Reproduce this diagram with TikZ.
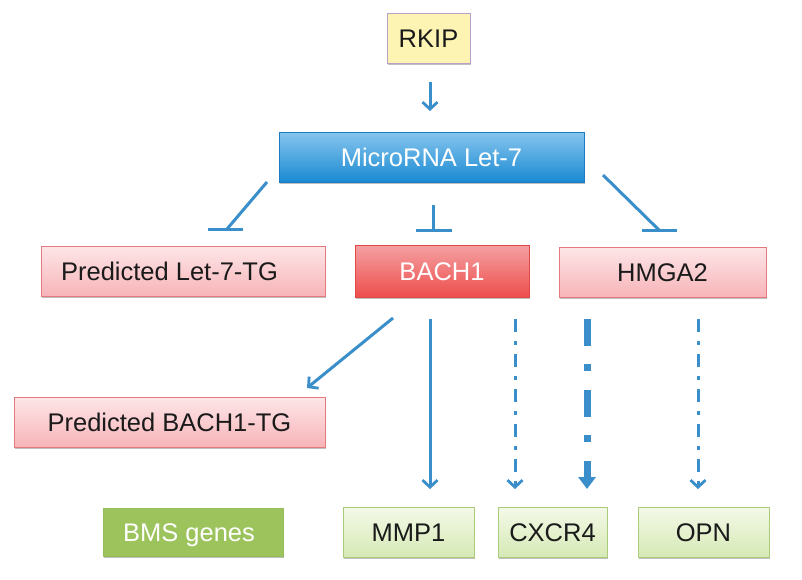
\documentclass[tikz,border=0pt]{standalone}
\usepackage{fontspec}
\setmainfont{Liberation Sans}
\usetikzlibrary{arrows.meta,shadows}
\definecolor{arrblue}{HTML}{3A8FCB}
\definecolor{txt}{HTML}{1A1A1A}
\tikzset{
  box/.style={rectangle, inner sep=0pt, line width=0.9pt, text=txt,
    font=\fontsize{25.5}{30}\selectfont, text height=18.3pt, text depth=0pt,
    drop shadow={shadow xshift=1pt, shadow yshift=-1.5pt, opacity=0.25, fill=black}},
  yellowbox/.style={box, fill={rgb,255:red,253;green,244;blue,180}, draw={rgb,255:red,184;green,160;blue,200}},
  bluebox/.style={box, top color={rgb,255:red,134;green,197;blue,238}, bottom color={rgb,255:red,26;green,138;blue,210}, draw={rgb,255:red,26;green,124;blue,192}, text=white},
  pinkbox/.style={box, top color={rgb,255:red,253;green,230;blue,232}, bottom color={rgb,255:red,247;green,180;blue,184}, draw={rgb,255:red,229;green,122;blue,126}},
  redbox/.style={box, top color={rgb,255:red,244;green,160;blue,162}, bottom color={rgb,255:red,238;green,78;blue,76}, draw={rgb,255:red,224;green,72;blue,72}, text=white},
  bmsbox/.style={box, fill={rgb,255:red,156;green,195;blue,92}, draw={rgb,255:red,150;green,190;blue,88}, text=white},
  greenbox/.style={box, top color={rgb,255:red,244;green,249;blue,232}, bottom color={rgb,255:red,214;green,233;blue,181}, draw={rgb,255:red,169;green,203;blue,122}},
  conn/.style={draw=arrblue, line width=3pt},
  act/.style={conn, -{Straight Barb[length=7pt,width=15pt,line width=2.8pt]}},
  inh/.style={conn},
  dashdot/.style={dash pattern=on 13pt off 9pt on 4pt off 9pt},
  thickdash/.style={line width=7pt, dash pattern=on 27pt off 18pt on 7pt off 19pt, -{Triangle[length=12pt,width=17pt]}},
}
\begin{document}
\begin{tikzpicture}[x=1pt,y=-1pt]
\useasboundingbox[fill=white] (0,0) rectangle (802,579);

\node[yellowbox, minimum width=83pt, minimum height=50pt] (rkip) at (428.5,38) {RKIP};
\node[bluebox, minimum width=305pt, minimum height=50pt] (mir) at (431.5,157) {MicroRNA Let-7};
\node[pinkbox, minimum width=284pt, minimum height=50pt] (pl7) at (183,271) {\hspace*{-27pt}Predicted Let-7-TG};
\node[redbox, minimum width=174pt, minimum height=52pt] (bach) at (442,271) {BACH1};
\node[pinkbox, minimum width=207pt, minimum height=50pt] (hmga) at (662.5,272) {HMGA2};
\node[pinkbox, minimum width=311pt, minimum height=50pt] (pb1) at (169.5,422) {Predicted BACH1-TG};
\node[bmsbox, minimum width=180pt, minimum height=48pt] (bms) at (193,532) {\hspace*{-8pt}BMS genes};
\node[greenbox, minimum width=131pt, minimum height=50pt] (mmp) at (408.5,532) {MMP1};
\node[greenbox, minimum width=109pt, minimum height=50pt] (cxcr) at (552.5,532) {CXCR4};
\node[greenbox, minimum width=131pt, minimum height=50pt] (opn) at (703.5,532) {OPN};

% free ends
\coordinate (r0) at (430,82);   \coordinate (r1) at (430,111);
\coordinate (i1s) at (267,182); \coordinate (i1e) at (227,229);
\coordinate (i1a) at (208,229); \coordinate (i1b) at (243,229);
\coordinate (i2s) at (433,205); \coordinate (i2e) at (433,230);
\coordinate (i2a) at (416,230); \coordinate (i2b) at (452,230);
\coordinate (i3s) at (603,175); \coordinate (i3e) at (659,230);
\coordinate (i3a) at (642,230); \coordinate (i3b) at (677,230);
\coordinate (b0) at (393,318);  \coordinate (b1) at (307,388);
\coordinate (m0) at (430,319);  \coordinate (m1) at (430,489);
\coordinate (c0) at (515,319);  \coordinate (c1) at (515,489);
\coordinate (t0) at (587,319);  \coordinate (t1) at (587,489);
\coordinate (o0) at (698,319);  \coordinate (o1) at (698,489);

\draw[act] (r0) -- (r1);
\draw[inh] (i1s) -- (i1e); \draw[inh] (i1a) -- (i1b);
\draw[inh] (i2s) -- (i2e); \draw[inh] (i2a) -- (i2b);
\draw[inh] (i3s) -- (i3e); \draw[inh] (i3a) -- (i3b);
\draw[act] (b0) -- (b1);
\draw[act] (m0) -- (m1);
\draw[act, dashdot] (c0) -- (c1);
\draw[conn, thickdash] (t0) -- (t1);
\draw[act, dashdot] (o0) -- (o1);
\end{tikzpicture}
\end{document}
